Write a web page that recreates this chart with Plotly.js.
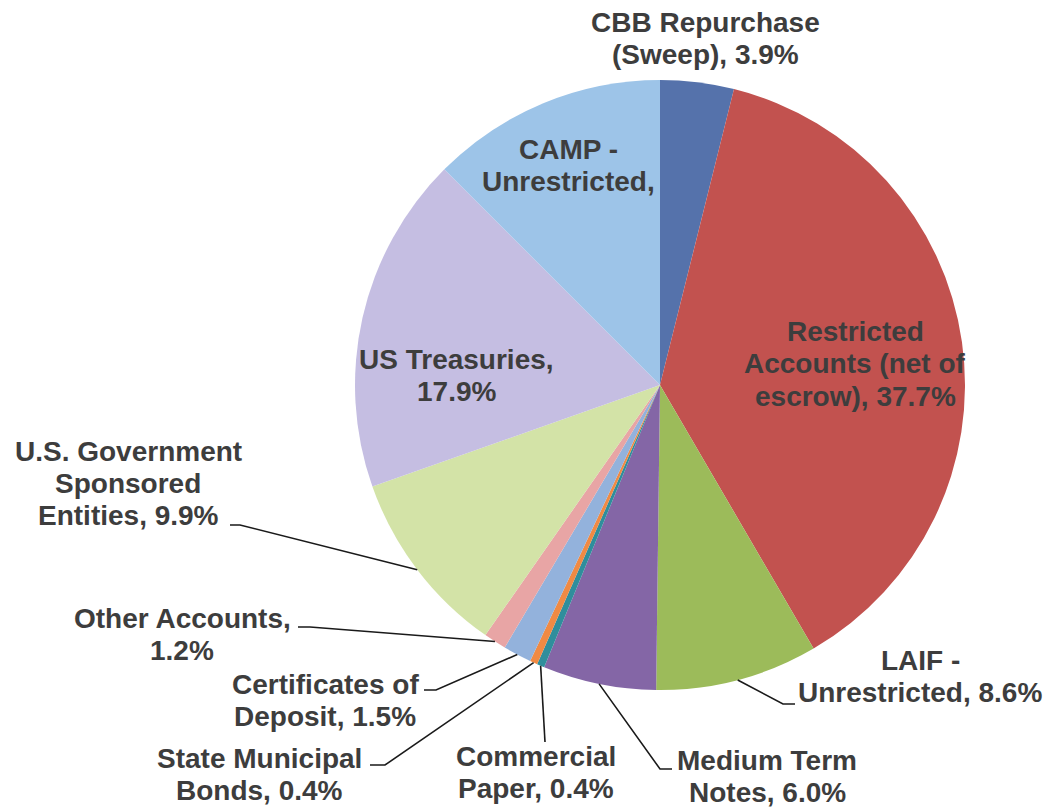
<!DOCTYPE html>
<html>
<head>
<meta charset="utf-8">
<script src="https://cdn.plot.ly/plotly-3.0.1.min.js"></script>
<style>html,body{margin:0;padding:0;background:#fff}#chart{width:1050px;height:808px}</style>
</head>
<body>
<div id="chart"></div>
<script>
// ---- data ----
const categories = [
  "CBB Repurchase (Sweep)",
  "Restricted Accounts (net of escrow)",
  "LAIF - Unrestricted",
  "Medium Term Notes",
  "Commercial Paper",
  "State Municipal Bonds",
  "Certificates of Deposit",
  "Other Accounts",
  "U.S. Government Sponsored Entities",
  "US Treasuries",
  "CAMP - Unrestricted"
];
const values = [3.9, 37.7, 8.6, 6.0, 0.4, 0.4, 1.5, 1.2, 9.9, 17.9, 12.5];
const labelText = [
  "CBB Repurchase<br>(Sweep), 3.9%",
  "Restricted<br>Accounts (net of<br>escrow), 37.7%",
  "LAIF -<br>Unrestricted, 8.6%",
  "Medium Term<br>Notes, 6.0%",
  "Commercial<br>Paper, 0.4%",
  "State Municipal<br>Bonds, 0.4%",
  "Certificates of<br>Deposit, 1.5%",
  "Other Accounts,<br>1.2%",
  "U.S. Government<br>Sponsored<br>Entities, 9.9%",
  "US Treasuries,<br>17.9%",
  "CAMP -<br>Unrestricted,"
];
const colors = ["#5572ab","#c2524f","#9cbb5a","#8466a6","#2f8e9c","#f08a44","#93b2dc","#e8a5a5","#d3e3a7","#c5bee2","#9dc4e8"];

// ---- layout helpers (pixel -> paper) ----
const W = 1050, H = 808;
const cx = 660, cy = 385, R = 305;
const px = x => x / W, py = y => 1 - y / H;
const lineGap = 32;

// label positions (pixels, block centre) and leader line elbows
const labelPos = [
  [705, 38], [855, 364], [920, 676], [767, 776], [536, 772], [259, 774],
  [325, 700], [182, 634], [128, 483], [456, 375], [568, 166]
];
// leader: [elbowX, elbowY, endX, endY] or null
const leaders = [
  null, null,
  [783, 704, 795, 704],
  [660, 769, 672, 769],
  [545, 742, 545, 742],
  [385, 765, 370, 765],
  [436, 690, 424, 690],
  [310, 627, 298, 627],
  [240, 525, 230, 525],
  null, null
];

const total = values.reduce((a, b) => a + b, 0);
let cum = 0;
const shapes = [];
values.forEach((v, i) => {
  const mid = (cum + v / 2) / total * 2 * Math.PI;
  cum += v;
  const L = leaders[i];
  if (!L) return;
  const sx = cx + R * Math.sin(mid), sy = cy - R * Math.cos(mid);
  shapes.push({
    type: "path", xref: "paper", yref: "paper",
    path: `M ${px(sx)} ${py(sy)} L ${px(L[0])} ${py(L[1])} L ${px(L[2])} ${py(L[3])}`,
    line: {color: "#1a1a1a", width: 1.6}
  });
});

const annotations = [];
labelText.forEach((t, i) => {
  const lines = t.split("<br>");
  const n = lines.length;
  lines.forEach((ln, k) => {
    annotations.push({
      text: ln, xref: "paper", yref: "paper",
      x: px(labelPos[i][0]), y: py(labelPos[i][1] + (k - (n - 1) / 2) * lineGap),
      xanchor: "center", yanchor: "middle", align: "center",
      showarrow: false,
      font: {family: "Liberation Sans, Arial, sans-serif", size: 28, color: "#3d3d3d", weight: "bold"}
    });
  });
});

const trace = {
  type: "pie",
  labels: categories,
  values: values,
  sort: false,
  direction: "clockwise",
  rotation: 0,
  textinfo: "none",
  hoverinfo: "label+percent",
  marker: {colors: colors, line: {width: 0}},
  domain: {x: [px(cx - R), px(cx + R)], y: [py(cy + R), py(cy - R)]},
  showlegend: false
};

Plotly.newPlot("chart", [trace], {
  width: W, height: H,
  margin: {l: 0, r: 0, t: 0, b: 0},
  paper_bgcolor: "#fff", plot_bgcolor: "#fff",
  showlegend: false,
  annotations: annotations,
  shapes: shapes
}, {displayModeBar: false, staticPlot: true});
</script>
</body>
</html>
